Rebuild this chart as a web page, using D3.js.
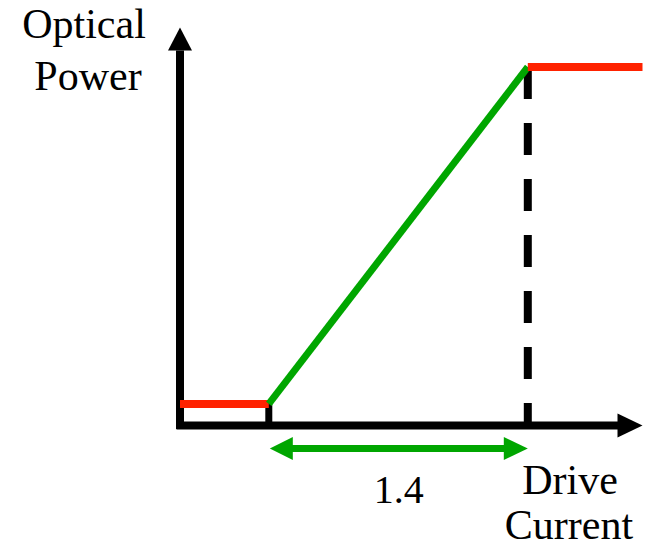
<!DOCTYPE html>
<html>
<head>
<meta charset="utf-8">
<script src="https://cdn.jsdelivr.net/npm/d3@7"></script>
<style>
  body { margin: 0; background: #fff; }
  svg text { font-family: "Liberation Serif", "Times New Roman", serif; fill: #000; }
</style>
</head>
<body>
<div id="chart"></div>
<script>
// data: drive current vs optical power (piecewise)
var lowCurrent  = [0, 0.48],    lowPower  = [0.06, 0.06];
var rampCurrent = [0.48, 1.88], rampPower = [0.06, 1.0];
var satCurrent  = [1.88, 2.5],  satPower  = [1.0, 1.0];
var spanLabel = "1.4";
var yLabel = ["Optical", "Power"];
var xLabel = ["Drive", "Current"];

var width = 667, height = 549;

var svg = d3.select("#chart")
  .append("svg")
  .attr("width", width)
  .attr("height", height);

var x = d3.scaleLinear().domain([0, 2.5]).range([180, 642.5]);
var y = d3.scaleLinear().domain([0, 1]).range([425.5, 67]);

var line = d3.line()
  .x(function(d) { return x(d[0]); })
  .y(function(d) { return y(d[1]); });

function pairs(a, b) { return a.map(function(v, i) { return [v, b[i]]; }); }

var red = "#ff2200", green = "#00a600";

// axes with arrow heads
var yTop = y(1.11), xEnd = x(2.5);
svg.append("line")
  .attr("x1", x(0)).attr("x2", x(0))
  .attr("y1", y(0) + 3.5).attr("y2", yTop + 23)
  .attr("stroke", "#000").attr("stroke-width", 8);
svg.append("path")
  .attr("d", "M" + x(0) + "," + yTop + "L" + (x(0) + 12) + "," + (yTop + 23) + "L" + (x(0) - 12) + "," + (yTop + 23) + "Z")
  .attr("fill", "#000");

svg.append("line")
  .attr("x1", x(0) - 3.5).attr("x2", xEnd - 24)
  .attr("y1", y(0)).attr("y2", y(0))
  .attr("stroke", "#000").attr("stroke-width", 8);
svg.append("path")
  .attr("d", "M" + xEnd + "," + y(0) + "L" + (xEnd - 25) + "," + (y(0) - 12) + "L" + (xEnd - 25) + "," + (y(0) + 12) + "Z")
  .attr("fill", "#000");

// threshold tick and saturation dashed line
svg.append("line")
  .attr("x1", x(rampCurrent[0])).attr("x2", x(rampCurrent[0]))
  .attr("y1", y(lowPower[0]) - 3).attr("y2", y(0))
  .attr("stroke", "#000").attr("stroke-width", 7);

svg.append("line")
  .attr("x1", x(satCurrent[0])).attr("x2", x(satCurrent[0]))
  .attr("y1", y(satPower[0])).attr("y2", y(0))
  .attr("stroke", "#000").attr("stroke-width", 8)
  .attr("stroke-dasharray", "32,24");

// curve segments
svg.append("path")
  .datum(pairs(lowCurrent, lowPower))
  .attr("d", line)
  .attr("fill", "none").attr("stroke", red).attr("stroke-width", 8);

svg.append("path")
  .datum(pairs(rampCurrent, rampPower))
  .attr("d", line)
  .attr("fill", "none").attr("stroke", green).attr("stroke-width", 7);

svg.append("path")
  .datum(pairs(satCurrent, satPower))
  .attr("d", line)
  .attr("fill", "none").attr("stroke", red).attr("stroke-width", 8);

// span arrow
var sy = y(0) + 23;
var sx1 = x(rampCurrent[0]) + 1, sx2 = x(rampCurrent[1]);
svg.append("line")
  .attr("x1", sx1 + 20).attr("x2", sx2 - 20)
  .attr("y1", sy).attr("y2", sy)
  .attr("stroke", green).attr("stroke-width", 7);
svg.append("path")
  .attr("d", "M" + sx1 + "," + sy + "L" + (sx1 + 23) + "," + (sy - 11.5) + "L" + (sx1 + 23) + "," + (sy + 11.5) + "Z")
  .attr("fill", green);
svg.append("path")
  .attr("d", "M" + sx2 + "," + sy + "L" + (sx2 - 24) + "," + (sy - 11.5) + "L" + (sx2 - 24) + "," + (sy + 11.5) + "Z")
  .attr("fill", green);

svg.append("text")
  .attr("x", (sx1 + sx2) / 2).attr("y", 503)
  .attr("text-anchor", "middle")
  .style("font-size", "40px")
  .text(spanLabel);

// axis labels
svg.append("text").attr("x", 84).attr("y", 38).attr("text-anchor", "middle")
  .style("font-size", "42px").text(yLabel[0]);
svg.append("text").attr("x", 88).attr("y", 90).attr("text-anchor", "middle")
  .style("font-size", "42px").text(yLabel[1]);

svg.append("text").attr("x", 570).attr("y", 494).attr("text-anchor", "middle")
  .style("font-size", "42px").text(xLabel[0]);
svg.append("text").attr("x", 569).attr("y", 539).attr("text-anchor", "middle")
  .style("font-size", "42px").text(xLabel[1]);
</script>
</body>
</html>
